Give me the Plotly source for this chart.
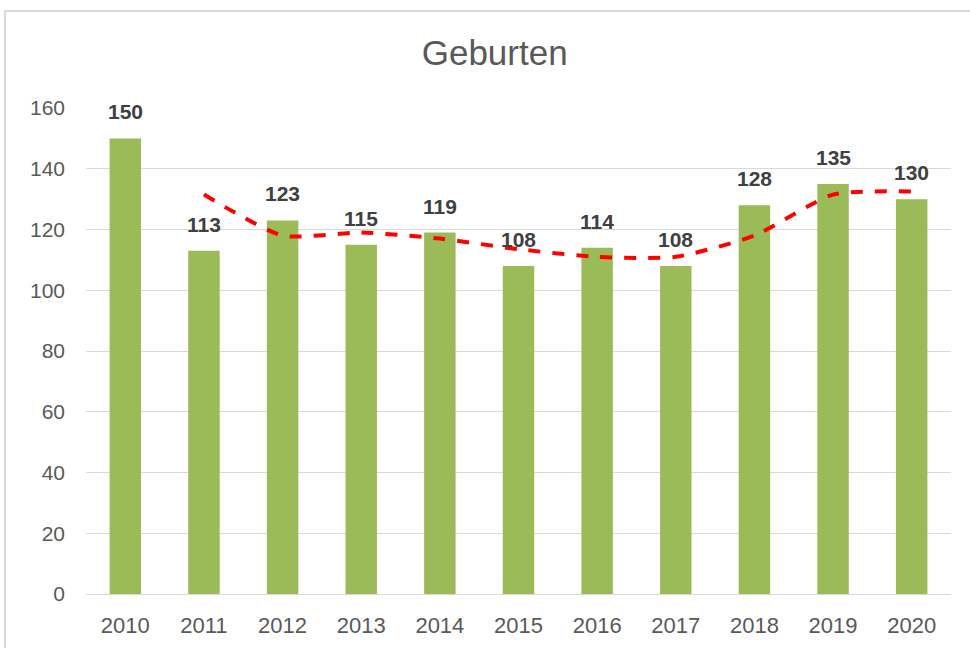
import plotly.graph_objects as go

years = [2010, 2011, 2012, 2013, 2014, 2015, 2016, 2017, 2018, 2019, 2020]
births = [150, 113, 123, 115, 119, 108, 114, 108, 128, 135, 130]
trend_years = [2011, 2012, 2013, 2014, 2015, 2016, 2017, 2018, 2019, 2020]
trend_values = [131.5, 118, 119, 117, 113.5, 111, 111, 118, 131.5, 132.5]
y_ticks = [0, 20, 40, 60, 80, 100, 120, 140, 160]

FONT = "Liberation Sans, Arial, sans-serif"

fig = go.Figure()
fig.add_trace(go.Bar(x=years, y=births, marker=dict(color="#9BBB59", line=dict(width=0)),
                     width=0.4))
fig.add_trace(go.Scatter(x=trend_years, y=trend_values, mode="lines",
                         line=dict(color="#FF0000", width=4, dash="dash", shape="spline", smoothing=0.6)))

for yr, v in zip(years, births):
    fig.add_annotation(x=yr, y=v, text=f"<b>{v}</b>", showarrow=False, yanchor="bottom",
                       yshift=13, font=dict(family=FONT, size=21, color="#404040"))

fig.add_shape(type="rect", xref="paper", yref="paper", x0=-0.0936, x1=1.2, y0=-0.3, y1=1.1996,
              line=dict(color="#d9d9d9", width=2), fillcolor="rgba(0,0,0,0)", layer="below")

fig.update_layout(
    width=970, height=648,
    margin=dict(l=86, r=19, t=108, b=54, autoexpand=False),
    paper_bgcolor="white", plot_bgcolor="white",
    showlegend=False,
    title=dict(text="Geburten", x=0.51, xref="container", xanchor="center",
               y=1 - 53 / 648, yref="container", yanchor="middle",
               font=dict(family=FONT, size=35, color="#595959")),
    xaxis=dict(type="linear", range=[min(years) - 0.5, max(years) + 0.5], tickvals=years,
               ticktext=[str(y) for y in years], showgrid=False, showline=False, ticks="",
               zeroline=False, automargin=False,
               tickfont=dict(family=FONT, size=22, color="#595959"), ticklabelstandoff=16),
    yaxis=dict(range=[0, 160], tickvals=y_ticks, showgrid=True, gridcolor="#d9d9d9", gridwidth=1,
               zeroline=True, zerolinecolor="#d9d9d9", zerolinewidth=1, showline=False, ticks="",
               automargin=False,
               tickfont=dict(family=FONT, size=21, color="#595959"), ticklabelstandoff=20),
)

fig.write_html("out.html")
